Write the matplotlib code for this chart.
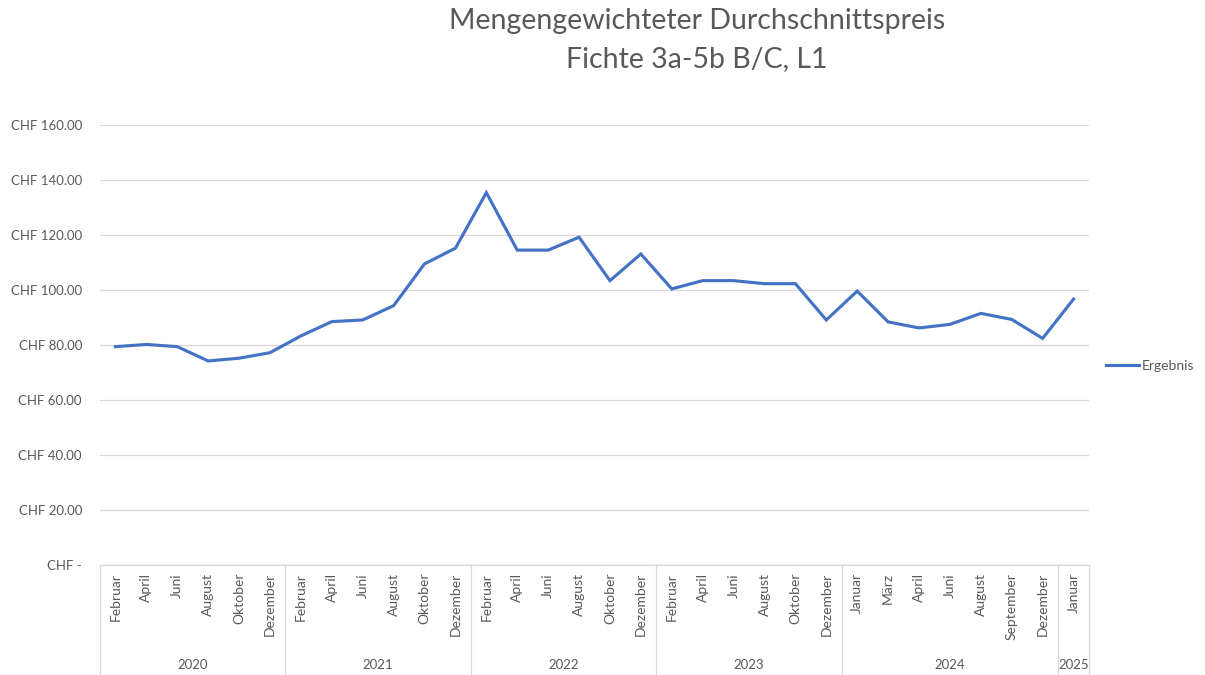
import matplotlib
matplotlib.use('Agg')
import matplotlib.pyplot as plt
from matplotlib.transforms import blended_transform_factory

plt.rcParams['font.family'] = ['Lato', 'DejaVu Sans']

# Daten: Jahre, Monate je Jahr, Preise
jahre = ['2020', '2021', '2022', '2023', '2024', '2025']
monate = [
    ['Februar', 'April', 'Juni', 'August', 'Oktober', 'Dezember'],
    ['Februar', 'April', 'Juni', 'August', 'Oktober', 'Dezember'],
    ['Februar', 'April', 'Juni', 'August', 'Oktober', 'Dezember'],
    ['Februar', 'April', 'Juni', 'August', 'Oktober', 'Dezember'],
    ['Januar', 'März', 'April', 'Juni', 'August', 'September', 'Dezember'],
    ['Januar'],
]
preise = [79.4, 80.2, 79.4, 74.2, 75.2, 77.2,
          83.3, 88.5, 89.1, 94.3, 109.5, 115.2,
          135.4, 114.5, 114.5, 119.2, 103.4, 113.1,
          100.4, 103.4, 103.4, 102.3, 102.3, 89.1,
          99.6, 88.4, 86.2, 87.5, 91.5, 89.3, 82.4,
          96.7]
y_ticks = [0, 20, 40, 60, 80, 100, 120, 140, 160]

grau = '#595959'
linie = '#D9D9D9'
blau = '#4472C4'

fig = plt.figure(figsize=(12.05, 6.75), dpi=100)
ax = fig.add_axes([100 / 1205, 110 / 675, 989 / 1205, 440 / 675])

x = list(range(len(preise)))
ax.plot(x, preise, color=blau, lw=2.25, solid_joinstyle='miter', label='Ergebnis')

ax.set_xlim(-0.5, len(preise) - 0.5)
ax.set_ylim(0, 160)
ax.set_yticks(y_ticks)
ax.set_yticklabels(['CHF -' if v == 0 else f'CHF {v:.2f}' for v in y_ticks],
                   color=grau, fontsize=9.5)
ax.tick_params(axis='y', length=0, pad=13)
ax.set_xticks([])
ax.yaxis.grid(True, color=linie, lw=0.9)
ax.set_axisbelow(True)
for s in ['top', 'right', 'left']:
    ax.spines[s].set_visible(False)
ax.spines['bottom'].set_color(linie)
ax.spines['bottom'].set_linewidth(0.9)

# mehrstufige Kategorienachse
trans = blended_transform_factory(ax.transData, ax.transAxes)
i = 0
grenzen = [-0.5]
for jahr, ms in zip(jahre, monate):
    start = i
    for m in ms:
        ax.text(i, -0.018, m, rotation=90, ha='center', va='top',
                fontsize=10, color=grau, transform=trans)
        i += 1
    ax.text((start + i - 1) / 2, -0.227, jahr, ha='center', va='center',
            fontsize=9.5, color=grau, transform=trans)
    grenzen.append(i - 0.5)
for g in grenzen:
    ax.plot([g, g], [0, -0.3], color=linie, lw=0.9, transform=trans, clip_on=False)

fig.text(697 / 1205, 1 - 21 / 675, 'Mengengewichteter Durchschnittspreis',
         ha='center', va='center', fontsize=20.5, color=grau)
fig.text(697 / 1205, 1 - 59 / 675, 'Fichte 3a-5b B/C, L1',
         ha='center', va='center', fontsize=20.5, color=grau)

fig.legend(loc='center left', bbox_to_anchor=(1093 / 1205, 1 - 366 / 675),
           frameon=False, fontsize=10, handlelength=2.4, handletextpad=0.2,
           labelcolor=grau)

fig.savefig('out.png', dpi=100)
